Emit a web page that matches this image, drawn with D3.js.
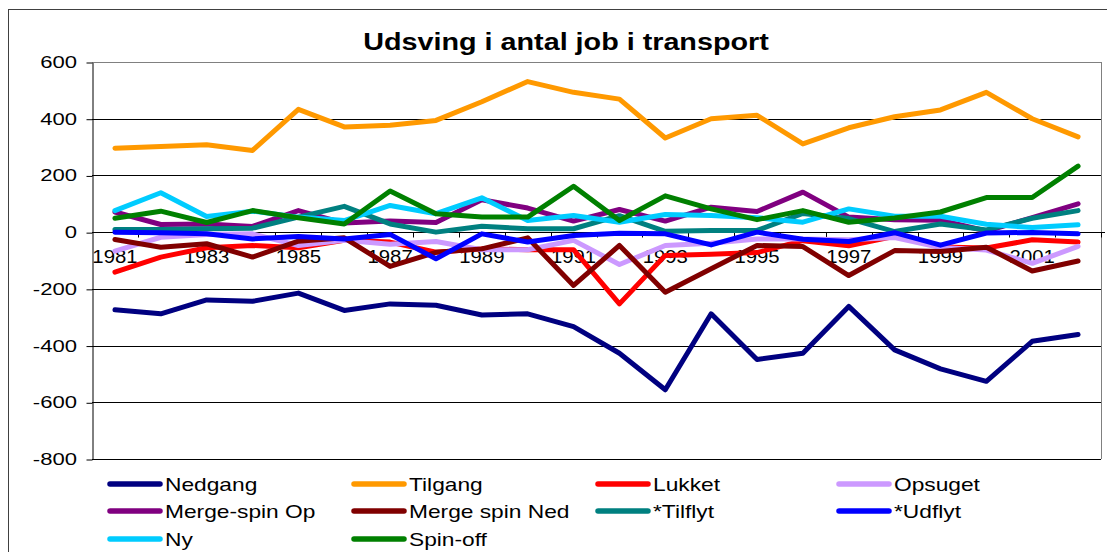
<!DOCTYPE html>
<html>
<head>
<meta charset="utf-8">
<script src="https://cdn.jsdelivr.net/npm/d3@7"></script>
<style>
  body { margin: 0; background: #fff; }
  svg { display: block; font-family: Arial, "Liberation Sans", sans-serif; }
</style>
</head>
<body>
<svg class="chart" width="1107" height="552"></svg>
<script>
const years = [1981, 1982, 1983, 1984, 1985, 1986, 1987, 1988, 1989, 1990, 1991,
               1992, 1993, 1994, 1995, 1996, 1997, 1998, 1999, 2000, 2001, 2002];
const yearLabels = [1981, 1983, 1985, 1987, 1989, 1991, 1993, 1995, 1997, 1999, 2001];
const yTicks = [-800, -600, -400, -200, 0, 200, 400, 600];

const nedgang      = [-274, -288, -239, -244, -215, -276, -253, -258, -292, -288, -333, -427, -556, -288, -449, -427, -262, -415, -482, -526, -385, -361];
const tilgang      = [296, 302, 308, 288, 433, 371, 377, 394, 460, 531, 493, 469, 332, 400, 412, 311, 368, 407, 431, 493, 400, 336];
const lukket       = [-141, -88, -55, -47, -55, -29, -35, -71, -59, -62, -62, -253, -82, -78, -72, -30, -48, -15, -52, -56, -27, -35];
const opsuget      = [-67, -18, -8, -6, -47, -29, -43, -33, -62, -62, -29, -114, -47, -39, -24, -24, -27, -19, -54, -63, -110, -50];
const mergeSpinOp  = [71, 27, 29, 20, 76, 32, 39, 34, 114, 85, 39, 80, 39, 88, 73, 141, 53, 44, 42, 4, 51, 100];
const mergeSpinNed = [-26, -53, -41, -88, -32, -20, -121, -71, -59, -20, -188, -47, -212, -129, -47, -51, -153, -65, -68, -53, -137, -102];
const tilflyt      = [9, 9, 12, 14, 53, 91, 29, 0, 21, 12, 12, 58, 3, 6, 6, 66, 48, 2, 29, 8, 49, 76];
const udflyt       = [0, -2, -6, -24, -15, -24, -8, -94, -6, -35, -12, -4, -6, -45, 0, -25, -33, -2, -46, -3, -1, -6];
const ny           = [76, 139, 55, 74, 53, 41, 94, 65, 121, 41, 59, 35, 62, 59, 51, 35, 82, 56, 56, 28, 16, 26];
const spinOff      = [49, 74, 34, 76, 51, 29, 145, 65, 53, 53, 162, 41, 128, 82, 44, 76, 35, 50, 71, 122, 122, 233];

const seriesNames  = ["Nedgang", "Tilgang", "Lukket", "Opsuget", "Merge-spin Op",
                      "Merge spin Ned", "*Tilflyt", "*Udflyt", "Ny", "Spin-off"];
const seriesValues = [nedgang, tilgang, lukket, opsuget, mergeSpinOp,
                      mergeSpinNed, tilflyt, udflyt, ny, spinOff];
const seriesColors = ["#000080", "#FF9900", "#FF0000", "#CC99FF", "#800080",
                      "#800000", "#008080", "#0000FF", "#00CCFF", "#008000"];

const svg = d3.select(".chart");

// outer chart frame
svg.append("rect")
    .attr("x", 8.5).attr("y", 9.5)
    .attr("width", 1200).attr("height", 600)
    .attr("fill", "none")
    .attr("stroke", "#404040")
    .attr("stroke-width", 1);

const plot = {left: 92, right: 1101, top: 62, bottom: 459};

const x = d3.scaleBand()
    .domain(years)
    .range([plot.left, plot.right]);

const y = d3.scaleLinear()
    .domain([-800, 600])
    .range([plot.bottom, plot.top]);

// stretched text helper (the reference text is wider than it is tall)
function stretchText(g, tx, ty, str, size, sx, anchor, weight) {
    return g.append("text")
        .attr("transform", `translate(${tx},${ty}) scale(${sx},1)`)
        .attr("text-anchor", anchor || "start")
        .style("font-size", size + "px")
        .style("font-weight", weight || "normal")
        .text(str);
}

// title
stretchText(svg, 566, 50, "Udsving i antal job i transport", 23, 1.25, "middle", "bold");

// gridlines
svg.append("g")
    .selectAll("line")
    .data(yTicks)
    .enter().append("line")
    .attr("x1", plot.left).attr("x2", plot.right)
    .attr("y1", d => Math.round(y(d)) + 0.5)
    .attr("y2", d => Math.round(y(d)) + 0.5)
    .attr("stroke", d => d === 600 ? "#808080" : "#000")
    .attr("stroke-width", 1);

// plot area right border
svg.append("line")
    .attr("x1", plot.right + 0.5).attr("x2", plot.right + 0.5)
    .attr("y1", plot.top).attr("y2", plot.bottom)
    .attr("stroke", "#808080");

// y axis
const yAxis = svg.append("g")
    .attr("transform", `translate(${plot.left + 0.5},0.5)`)
    .call(d3.axisLeft(y).tickValues(yTicks).tickSize(6).tickSizeOuter(0).tickFormat(d3.format("d")));
yAxis.select(".domain").attr("stroke", "#000");
yAxis.selectAll(".tick text").remove();
yTicks.forEach(v => {
    stretchText(svg, 77, y(v) + 6, v.toString(), 17, 1.3, "end");
});

// x axis at zero with ticks between categories
const zeroY = Math.round(y(0)) + 0.5;
svg.append("line")
    .attr("x1", plot.left).attr("x2", plot.right + 4)
    .attr("y1", zeroY).attr("y2", zeroY)
    .attr("stroke", "#000");
svg.append("g")
    .selectAll("line")
    .data(years.slice(1).concat(["end"]))
    .enter().append("line")
    .attr("x1", d => d === "end" ? plot.right + 0.5 : Math.round(x(d)) + 0.5)
    .attr("x2", d => d === "end" ? plot.right + 0.5 : Math.round(x(d)) + 0.5)
    .attr("y1", zeroY).attr("y2", zeroY + 5)
    .attr("stroke", "#000");

yearLabels.forEach(yr => {
    stretchText(svg, x(yr) + x.bandwidth() / 2, 263, yr.toString(), 18, 1.13, "middle");
});

// lines
const line = d3.line()
    .x((d, i) => x(years[i]) + x.bandwidth() / 2)
    .y(d => y(d));

svg.append("g")
    .selectAll("path")
    .data(seriesValues)
    .enter().append("path")
    .attr("d", line)
    .attr("fill", "none")
    .attr("stroke", (d, i) => seriesColors[i])
    .attr("stroke-width", 5)
    .attr("stroke-linejoin", "round")
    .attr("stroke-linecap", "round");

// legend
const legendCols = [108, 352, 596, 837];
const legendRows = [484, 511, 539];
const legend = svg.selectAll(".legend")
    .data(seriesNames)
    .enter().append("g")
    .attr("class", "legend")
    .attr("transform", (d, i) => `translate(${legendCols[i % 4]},${legendRows[Math.floor(i / 4)]})`);

legend.append("line")
    .attr("x1", 2).attr("x2", 52)
    .attr("y1", 0).attr("y2", 0)
    .attr("stroke", (d, i) => seriesColors[i])
    .attr("stroke-width", 5.5)
    .attr("stroke-linecap", "round");

legend.each(function(d) {
    stretchText(d3.select(this), 57, 7, d, 17.5, 1.3, "start");
});
</script>
</body>
</html>
